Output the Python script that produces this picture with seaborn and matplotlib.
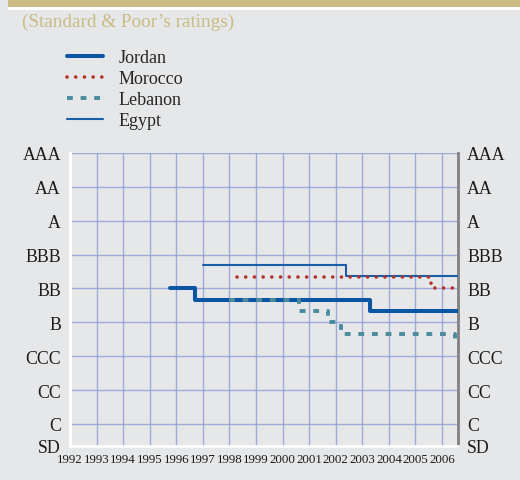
import seaborn as sns
import matplotlib.pyplot as plt
import pandas as pd
import numpy as np
from matplotlib.patches import Rectangle

# ratings scale (numeric position -> label)
rating_labels = ['SD', 'C', 'CC', 'CCC', 'B', 'BB', 'BBB', 'A', 'AA', 'AAA']
rating_pos = [0.35, 1, 2, 3, 4, 5, 6, 7, 8, 9]
years = list(range(1992, 2007))

# step series (year of change, rating level)
jordan_x = [1995.75, 1996.7, 2003.3, 2006.6]
jordan_y = [5.0, 4.67, 4.33, 4.33]
morocco_x = [1998.3, 2005.6, 2006.6]
morocco_y = [5.34, 5.0, 5.0]
lebanon_x = [1998.0, 2000.6, 2001.7, 2002.2, 2006.5, 2006.6]
lebanon_y = [4.67, 4.33, 4.0, 3.67, 3.4, 3.4]
egypt_x = [1997.0, 2002.4, 2006.6]
egypt_y = [5.68, 5.36, 5.36]

bg = '#e6e7e9'
gold = '#c9bb82'
grid_c = '#8d9bd6'

sns.set_style('white')
plt.rcParams['font.family'] = ['Liberation Serif', 'DejaVu Serif']

fig = plt.figure(figsize=(5.2, 4.81), dpi=100, facecolor=bg)
ax = fig.add_axes([70/520, 1-447/481, (458-70)/520, (447-154)/481])
ax.set_facecolor(bg)

# header band + subtitle
fig.patches.append(Rectangle((8/520, 1-8/481), 1, 8/481, transform=fig.transFigure,
                             facecolor=gold, edgecolor='none'))
fig.patches.append(Rectangle((8/520, 1-10.5/481), 1, 2.5/481, transform=fig.transFigure,
                             facecolor='white', edgecolor='none'))
fig.text(22/520, 1-22/481, '(Standard & Poor\u2019s ratings)', color=gold,
         fontsize=13.8, va='center', ha='left')

# grid
for yv in rating_pos[1:]:
    ax.axhline(yv, color=grid_c, lw=1, alpha=0.8, zorder=0)
for xv in years[1:]:
    ax.axvline(xv, color=grid_c, lw=1, alpha=0.8, zorder=0)

sns.lineplot(x=jordan_x, y=jordan_y, ax=ax, drawstyle='steps-post', color='#0b55a5',
             lw=2.9, label='Jordan', zorder=3)
sns.lineplot(x=morocco_x, y=morocco_y, ax=ax, drawstyle='steps-post', color='#b3332b',
             lw=2.6, dashes=(0.01, 2.4), dash_capstyle='round', label='Morocco', zorder=4)
sns.lineplot(x=lebanon_x, y=lebanon_y, ax=ax, drawstyle='steps-post', color='#4a8c9d',
             lw=2.8, dashes=(1.5, 2.0), label='Lebanon', zorder=5)
sns.lineplot(x=egypt_x, y=egypt_y, ax=ax, drawstyle='steps-post', color='#1a5ea8',
             lw=1.5, label='Egypt', zorder=3)

ax.set_xlim(1992, 2006.6)
ax.set_ylim(0.35, 9)
ax.set_xticks(years)
ax.set_xticklabels([str(y) for y in years], fontsize=9.3)
ax.set_yticks(rating_pos)
ax.set_yticklabels(rating_labels, fontsize=12.8)
ax.tick_params(axis='y', left=False, right=False, labelleft=True, labelright=True,
               pad=3, colors='#1a1a1a')
ax.tick_params(axis='x', direction='out', length=3, width=1, color='#333333',
               pad=2, labelcolor='#1a1a1a')
ax.set_xlabel('')
ax.set_ylabel('')

ax.spines['top'].set_visible(False)
ax.spines['left'].set_color('white')
ax.spines['left'].set_linewidth(2)
ax.spines['bottom'].set_color('white')
ax.spines['bottom'].set_linewidth(2)
ax.spines['right'].set_color('#808080')
ax.spines['right'].set_linewidth(2)

ax.get_legend().remove()
h, l = ax.get_legend_handles_labels()
fig.legend(h, l, loc='upper left', bbox_to_anchor=(67/520, 1-50/481), frameon=False,
           fontsize=13, handlelength=2.0, handletextpad=0.85, labelspacing=0.22,
           borderpad=0, borderaxespad=0)

fig.savefig('out.png', dpi=100, facecolor=bg)
